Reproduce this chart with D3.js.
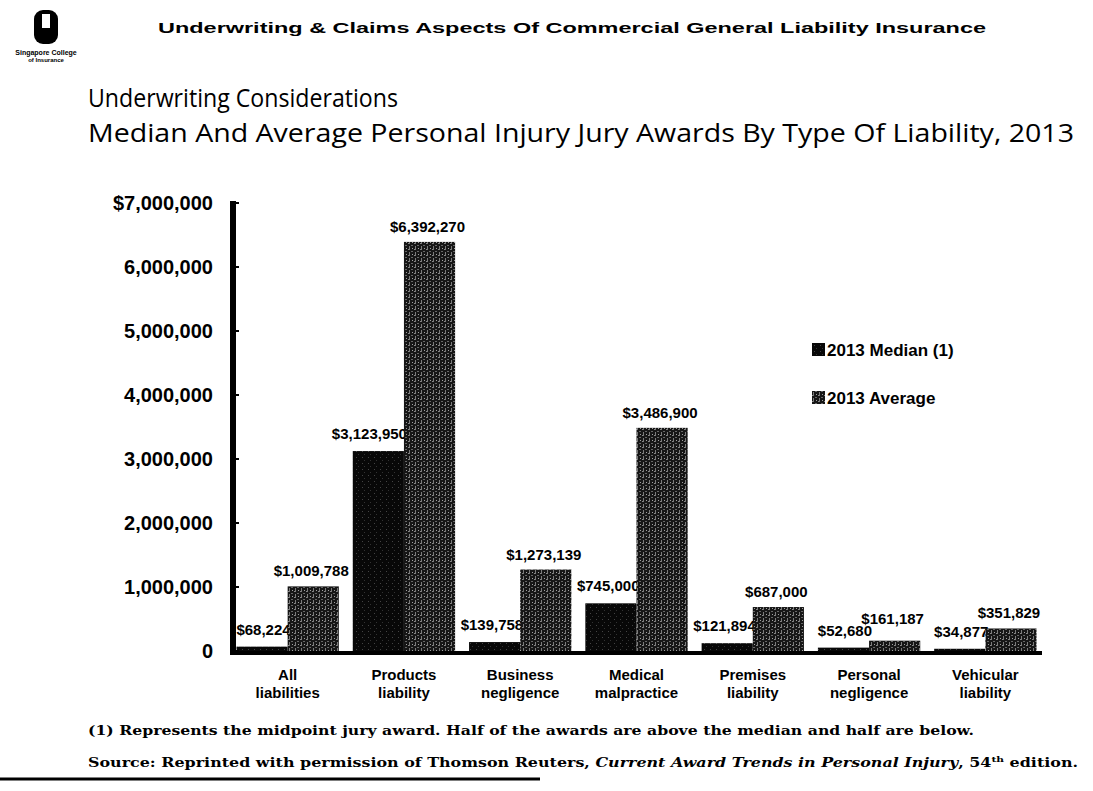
<!DOCTYPE html>
<html>
<head>
<meta charset="utf-8">
<script src="https://cdn.jsdelivr.net/npm/d3@7"></script>
<style>
  body { margin: 0; background: #fff; }
  svg { display: block; }
</style>
</head>
<body>
<svg id="chart" width="1093" height="791"></svg>
<script>
// chart data
const categories = ["All liabilities", "Products liability", "Business negligence",
  "Medical malpractice", "Premises liability", "Personal negligence", "Vehicular liability"];
const catLines = [["All", "liabilities"], ["Products", "liability"], ["Business", "negligence"],
  ["Medical", "malpractice"], ["Premises", "liability"], ["Personal", "negligence"], ["Vehicular", "liability"]];
const median2013 = [68224, 3123950, 139758, 745000, 121894, 52680, 34877];
const average2013 = [1009788, 6392270, 1273139, 3486900, 687000, 161187, 351829];
const seriesNames = ["2013 Median (1)", "2013 Average"];
const yTicks = [0, 1000000, 2000000, 3000000, 4000000, 5000000, 6000000, 7000000];

const svg = d3.select("#chart");
const bold = "Liberation Sans, Arial, sans-serif";

// textures for the scanned bars
const defs = svg.append("defs");
const pm = defs.append("pattern").attr("id", "medTex").attr("width", 6).attr("height", 6)
  .attr("patternUnits", "userSpaceOnUse");
pm.append("rect").attr("width", 6).attr("height", 6).attr("fill", "#080808");
pm.append("rect").attr("x", 2).attr("y", 1).attr("width", 1).attr("height", 1).attr("fill", "#444");
pm.append("rect").attr("x", 4).attr("y", 4).attr("width", 1).attr("height", 1).attr("fill", "#333");

const pa = defs.append("pattern").attr("id", "avgTex").attr("width", 6).attr("height", 6)
  .attr("patternUnits", "userSpaceOnUse");
pa.append("rect").attr("width", 6).attr("height", 6).attr("fill", "#161616");
pa.append("rect").attr("x", 1).attr("y", 0).attr("width", 1).attr("height", 4).attr("fill", "#7a7a7a");
pa.append("rect").attr("x", 4).attr("y", 2).attr("width", 1).attr("height", 1).attr("fill", "#a0a0a0");
pa.append("rect").attr("x", 3).attr("y", 5).attr("width", 2).attr("height", 1).attr("fill", "#666");
pa.append("rect").attr("x", 0).attr("y", 3).attr("width", 1).attr("height", 1).attr("fill", "#888");

// header
const logo = svg.append("g");
logo.append("rect").attr("x", 34).attr("y", 10).attr("width", 24).attr("height", 34).attr("rx", 9).attr("fill", "#000");
logo.append("rect").attr("x", 42).attr("y", 14).attr("width", 8).attr("height", 14).attr("fill", "#fff");
logo.append("text").attr("x", 46).attr("y", 55).attr("text-anchor", "middle")
  .attr("font-family", bold).attr("font-weight", "bold").attr("font-size", 7).text("Singapore College");
logo.append("text").attr("x", 46).attr("y", 62).attr("text-anchor", "middle")
  .attr("font-family", bold).attr("font-weight", "bold").attr("font-size", 6).text("of Insurance");

svg.append("text").attr("x", 158).attr("y", 33)
  .attr("font-family", bold).attr("font-weight", "bold").attr("font-size", 15)
  .attr("textLength", 828).attr("lengthAdjust", "spacingAndGlyphs")
  .text("Underwriting & Claims Aspects Of Commercial General Liability Insurance");

svg.append("text").attr("x", 88).attr("y", 107)
  .attr("font-family", "Open Sans, sans-serif").attr("font-size", 25)
  .attr("textLength", 310).attr("lengthAdjust", "spacingAndGlyphs")
  .text("Underwriting Considerations");
svg.append("text").attr("x", 88).attr("y", 142)
  .attr("font-family", "Open Sans, sans-serif").attr("font-size", 25)
  .attr("textLength", 986).attr("lengthAdjust", "spacingAndGlyphs")
  .text("Median And Average Personal Injury Jury Awards By Type Of Liability, 2013");

// scales
const x0 = d3.scaleBand().domain(categories).range([233, 1040]).paddingInner(0.12).paddingOuter(0.03);
const x1 = d3.scaleBand().domain([0, 1]).range([0, x0.bandwidth()]);
const y = d3.scaleLinear().domain([0, 7000000]).range([651, 203]);
const fmt = d3.format(",");

// y axis labels
svg.append("g").selectAll("text").data(yTicks).join("text")
  .attr("x", 213).attr("y", d => y(d) + 7).attr("text-anchor", "end")
  .attr("font-family", bold).attr("font-weight", "bold").attr("font-size", 20)
  .text(d => d === 7000000 ? "$" + fmt(d) : fmt(d));

const groups = categories.map((c, i) => ({ c, i, med: median2013[i], avg: average2013[i] }));

// median bars and their labels (drawn before the average bars, which cover them)
svg.append("g").selectAll("rect").data(groups).join("rect")
  .attr("x", d => x0(d.c) + x1(0)).attr("width", x1.bandwidth())
  .attr("y", d => y(d.med)).attr("height", d => y(0) - y(d.med))
  .attr("fill", "url(#medTex)");
svg.append("g").selectAll("text").data(groups).join("text")
  .attr("x", d => x0(d.c) + x1(0) + x1.bandwidth() + 3)
  .attr("y", d => Math.min(y(d.med) - 12, 640))
  .attr("text-anchor", "end")
  .attr("font-family", bold).attr("font-weight", "bold").attr("font-size", 15)
  .text(d => "$" + fmt(d.med));

// average bars and their labels
svg.append("g").selectAll("rect").data(groups).join("rect")
  .attr("x", d => x0(d.c) + x1(1)).attr("width", x1.bandwidth())
  .attr("y", d => y(d.avg)).attr("height", d => y(0) - y(d.avg))
  .attr("fill", "url(#avgTex)");
svg.append("g").selectAll("text").data(groups).join("text")
  .attr("x", d => x0(d.c) + x1(1) + x1.bandwidth() / 2 - 2)
  .attr("y", d => Math.min(y(d.avg) - 10, 624))
  .attr("text-anchor", "middle")
  .attr("font-family", bold).attr("font-weight", "bold").attr("font-size", 15)
  .text(d => "$" + fmt(d.avg));

// axis lines
svg.append("line").attr("x1", 233).attr("x2", 233).attr("y1", 201).attr("y2", y(0) + 2)
  .attr("stroke", "#000").attr("stroke-width", 6);
svg.append("line").attr("x1", 230).attr("x2", 1042).attr("y1", y(0) + 2).attr("y2", y(0) + 2)
  .attr("stroke", "#000").attr("stroke-width", 4);
svg.append("g").selectAll("line").data(yTicks).join("line")
  .attr("x1", 233).attr("x2", 239).attr("y1", d => y(d)).attr("y2", d => y(d))
  .attr("stroke", "#000").attr("stroke-width", 2);

// category labels
const cl = svg.append("g").selectAll("text").data(groups).join("text")
  .attr("text-anchor", "middle")
  .attr("font-family", bold).attr("font-weight", "bold").attr("font-size", 15);
cl.append("tspan").attr("x", d => x0(d.c) + x0.bandwidth() / 2).attr("y", 680).text(d => catLines[d.i][0]);
cl.append("tspan").attr("x", d => x0(d.c) + x0.bandwidth() / 2).attr("y", 698).text(d => catLines[d.i][1]);

// legend
const lg = svg.append("g").selectAll("g").data(seriesNames).join("g")
  .attr("transform", (d, i) => `translate(812,${350 + i * 48})`);
lg.append("rect").attr("x", 0).attr("y", -7).attr("width", 13).attr("height", 13)
  .attr("fill", (d, i) => i === 0 ? "url(#medTex)" : "url(#avgTex)");
lg.append("text").attr("x", 15).attr("y", 6)
  .attr("font-family", bold).attr("font-weight", "bold").attr("font-size", 17)
  .text(d => d);

// footnotes
const serif = "DejaVu Serif, Liberation Serif, serif";
svg.append("text").attr("x", 88).attr("y", 735)
  .attr("font-family", serif).attr("font-weight", "bold").attr("font-size", 12)
  .attr("textLength", 886).attr("lengthAdjust", "spacingAndGlyphs")
  .text("(1) Represents the midpoint jury award. Half of the awards are above the median and half are below.");
const src = svg.append("text").attr("x", 88).attr("y", 767)
  .attr("font-family", serif).attr("font-weight", "bold").attr("font-size", 12)
  .attr("textLength", 990).attr("lengthAdjust", "spacingAndGlyphs");
src.append("tspan").text("Source: Reprinted with permission of Thomson Reuters, ");
src.append("tspan").attr("font-style", "italic").text("Current Award Trends in Personal Injury");
src.append("tspan").text(", 54");
src.append("tspan").attr("font-size", 8).attr("dy", -5).text("th");
src.append("tspan").attr("dy", 5).text(" edition.");

svg.append("line").attr("x1", 0).attr("x2", 540).attr("y1", 779).attr("y2", 779)
  .attr("stroke", "#000").attr("stroke-width", 3);
</script>
</body>
</html>
